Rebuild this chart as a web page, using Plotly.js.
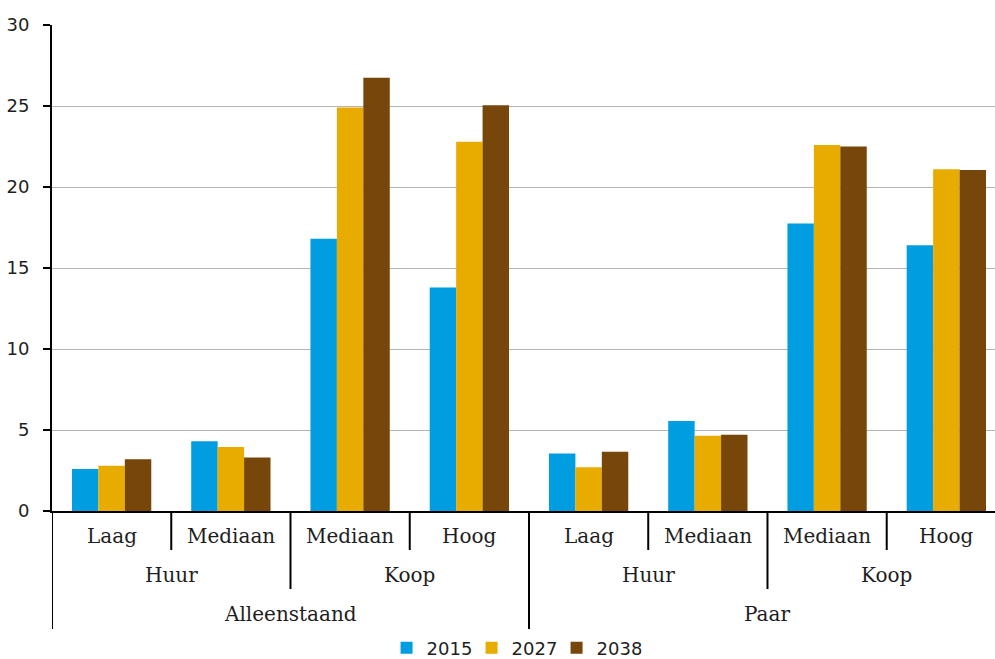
<!DOCTYPE html>
<html>
<head>
<meta charset="utf-8">
<script src="https://cdn.plot.ly/plotly-3.0.1.min.js"></script>
<style>html,body{margin:0;padding:0;background:#fff;}#chart{width:995px;height:659px;}</style>
</head>
<body>
<div id="chart"></div>
<script>
// Category tiers (one entry per group)
const tier3 = ["Alleenstaand","Alleenstaand","Alleenstaand","Alleenstaand","Paar","Paar","Paar","Paar"];
const tier2 = ["Huur","Huur","Koop","Koop","Huur","Huur","Koop","Koop"];
const tier1 = ["Laag","Mediaan","Mediaan","Hoog","Laag","Mediaan","Mediaan","Hoog"];

const seriesNames = ["2015","2027","2038"];
const v2015 = [2.6, 4.3, 16.8, 13.8, 3.55, 5.55, 17.75, 16.4];
const v2027 = [2.8, 3.95, 24.9, 22.8, 2.7, 4.65, 22.6, 21.1];
const v2038 = [3.2, 3.3, 26.75, 25.05, 3.65, 4.7, 22.5, 21.05];

const colors = ["#009ee0","#e8ab00","#77460b"];
const values = [v2015, v2027, v2038];
const xs = tier1.map((_, i) => i);

const traces = values.map((v, k) => ({
  type: "bar",
  name: seriesNames[k],
  x: xs,
  y: v,
  marker: {color: colors[k], line: {width: 0}},
  hoverinfo: "skip"
}));

// paper-fraction offsets below the axis for each tier
const plotH = 659 - 25 - 148;
const px = p => -p / plotH;
const lineDepth = [px(39), px(78), px(118)];
const labelY = [px(25), px(64), px(103)];

const shapes = [];
const annotations = [];
const tiers = [tier1, tier2, tier3];
tiers.forEach((tier, t) => {
  let start = 0;
  for (let i = 1; i <= tier.length; i++) {
    const changed = i === tier.length ||
      tiers.slice(t).some(tt => tt[i] !== tt[i - 1]);
    if (changed) {
      annotations.push({
        x: (start + i - 1) / 2, y: labelY[t], xref: "x", yref: "paper",
        text: tier[start], showarrow: false, xanchor: "center", yanchor: "middle",
        font: {family: "DejaVu Serif", size: 20, color: "#1e1e1e"}
      });
      start = i;
    }
  }
});
// vertical separator lines
for (let i = 0; i < tier1.length; i++) {
  let depth;
  if (i === 0) depth = 2;
  else if (tier3[i] !== tier3[i - 1]) depth = 2;
  else if (tier2[i] !== tier2[i - 1]) depth = 1;
  else depth = 0;
  shapes.push({
    type: "line", xref: "x", yref: "paper",
    x0: i - 0.5, x1: i - 0.5, y0: 0, y1: lineDepth[depth],
    line: {color: "#000", width: 2}
  });
}

const layout = {
  width: 995, height: 659,
  margin: {l: 52, r: 0, t: 25, b: 148, autoexpand: false},
  paper_bgcolor: "#fff", plot_bgcolor: "#fff",
  barmode: "group", bargap: 0.335, bargroupgap: 0,
  showlegend: true,
  legend: {
    orientation: "h", x: 0.490, xanchor: "center", y: px(137), yanchor: "middle",
    font: {family: "DejaVu Sans", size: 18, color: "#1e1e1e"},
    entrywidth: 40, entrywidthmode: "pixels",
    traceorder: "normal", itemclick: false, itemdoubleclick: false
  },
  xaxis: {
    type: "linear", range: [-0.5, 7.408], showticklabels: false, ticks: "",
    showgrid: false, zeroline: false, showline: true, linecolor: "#000", linewidth: 2,
    fixedrange: true
  },
  yaxis: {
    range: [0, 30], dtick: 5, tick0: 0,
    showgrid: true, gridcolor: "#b4b4b4", gridwidth: 1, zeroline: false,
    showline: true, linecolor: "#000", linewidth: 2,
    ticks: "outside", ticklen: 7, tickwidth: 2, tickcolor: "#000",
    ticklabelstandoff: 10,
    tickfont: {family: "DejaVu Sans", size: 18, color: "#1e1e1e"},
    fixedrange: true
  },
  shapes: shapes,
  annotations: annotations
};

Plotly.newPlot("chart", traces, layout, {displayModeBar: false, staticPlot: true});
</script>
</body>
</html>
